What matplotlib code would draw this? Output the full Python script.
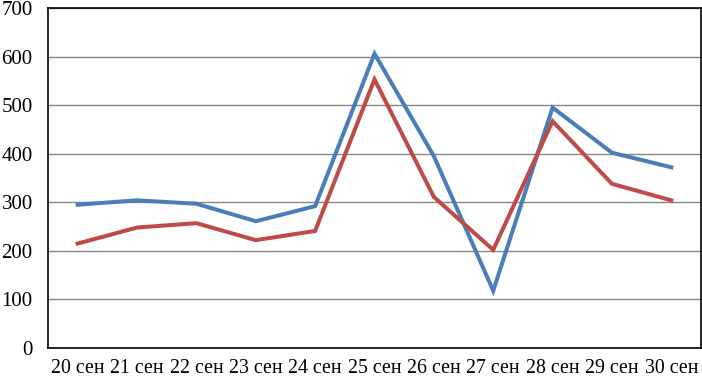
import matplotlib
matplotlib.use("Agg")
import matplotlib.pyplot as plt

categories = ["20 сен", "21 сен", "22 сен", "23 сен", "24 сен", "25 сен",
              "26 сен", "27 сен", "28 сен", "29 сен", "30 сен"]
blue_values = [295, 304, 297, 261, 292, 606, 395, 118, 495, 402, 372]
red_values = [215, 248, 257, 222, 241, 553, 311, 202, 467, 338, 304]
y_ticks = [0, 100, 200, 300, 400, 500, 600, 700]

plt.rcParams['font.family'] = ['Liberation Serif', 'DejaVu Serif']

fig = plt.figure(figsize=(7.02, 3.80), dpi=100)
ax = fig.add_axes([48/702, 32/380, 653/702, 340/380])

x = list(range(len(categories)))
ax.plot(x, blue_values, color='#4A7EBB', lw=2.9, solid_joinstyle='miter', zorder=3)
ax.plot(x, red_values, color='#BE4B48', lw=2.9, solid_joinstyle='miter', zorder=3)

ax.set_xlim(-0.5, len(categories) - 0.5)
ax.set_ylim(0, 700)
ax.set_yticks(y_ticks)
ax.set_xticks(x)
ax.set_xticklabels(categories)
ax.yaxis.grid(True, color='#868686', lw=1)
ax.set_axisbelow(True)
ax.tick_params(axis='both', length=0)
ax.tick_params(axis='y', pad=11, labelsize=15)
ax.tick_params(axis='x', pad=8, labelsize=14.3)
for s in ax.spines.values():
    s.set_color('black')
    s.set_linewidth(1.2)

fig.savefig('out.png', dpi=100)
